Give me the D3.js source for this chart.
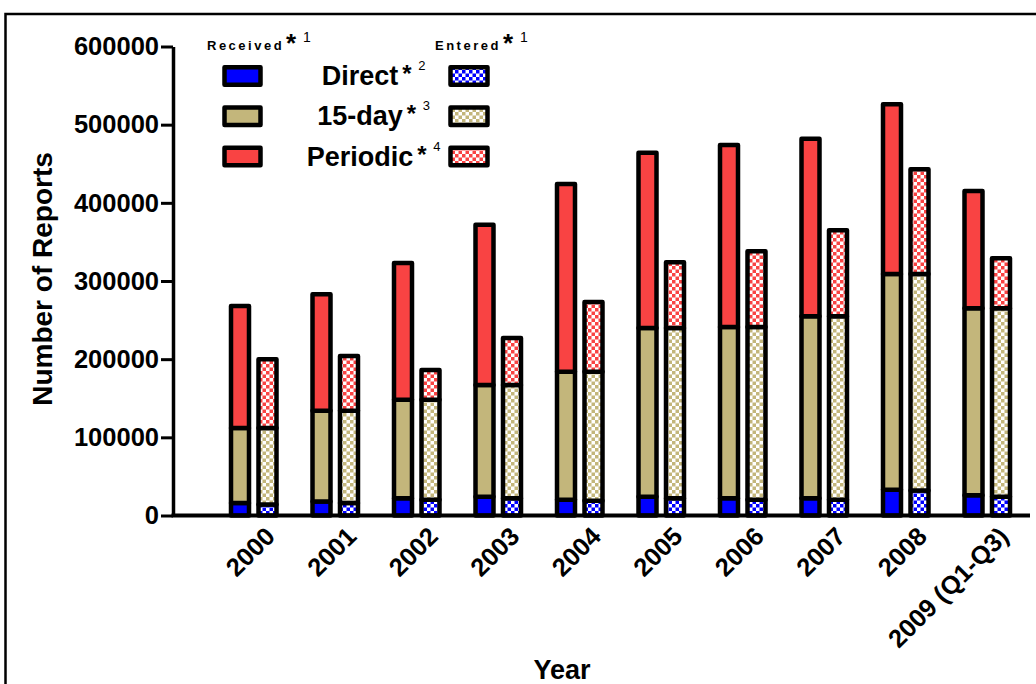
<!DOCTYPE html>
<html>
<head>
<meta charset="utf-8">
<script src="https://cdn.jsdelivr.net/npm/d3@7"></script>
<style>
  html, body { margin: 0; padding: 0; background: #fff; }
  svg { display: block; font-family: "Liberation Sans", Arial, sans-serif; }
</style>
</head>
<body>
<svg id="chart" width="1036" height="684"></svg>
<script>
const years = ["2000", "2001", "2002", "2003", "2004", "2005", "2006", "2007", "2008", "2009 (Q1-Q3)"];
const categories = ["Direct", "15-day", "Periodic"];
const categorySup = ["2", "3", "4"];
const receivedDirect   = [16000, 18000, 22000, 24000, 20000, 24000, 22000, 22000, 33000, 26000];
const received15day    = [96000, 116000, 126000, 143000, 164000, 216000, 219000, 233000, 276000, 239000];
const receivedPeriodic = [156000, 149000, 175000, 205000, 240000, 224000, 233000, 227000, 217000, 150000];
const enteredDirect    = [14000, 16000, 20000, 22000, 19000, 22000, 20000, 20000, 32000, 24000];
const entered15day     = [98000, 118000, 128000, 145000, 165000, 218000, 221000, 235000, 277000, 241000];
const enteredPeriodic  = [88000, 70000, 38000, 60000, 89000, 84000, 97000, 110000, 134000, 64000];
const yTicks = [0, 100000, 200000, 300000, 400000, 500000, 600000];
const colors = ["#0000FF", "#C3B67B", "#F94343"];

const svg = d3.select("#chart");

// patterns
const defs = svg.append("defs");
const cell = 3.5;
colors.forEach((c, i) => {
  const p = defs.append("pattern").attr("id", "chk" + i)
    .attr("patternUnits", "userSpaceOnUse").attr("width", cell * 2).attr("height", cell * 2);
  p.append("rect").attr("width", cell * 2).attr("height", cell * 2).attr("fill", "#fff");
  p.append("rect").attr("width", cell).attr("height", cell).attr("fill", c);
  p.append("rect").attr("x", cell).attr("y", cell).attr("width", cell).attr("height", cell).attr("fill", c);
});

// frame
svg.append("path").attr("d", "M5.5,684 V14 H1036").attr("fill", "none").attr("stroke", "#000").attr("stroke-width", 2.5);

const plotLeft = 173, plotRight = 1030;
const y = d3.scaleLinear().domain([0, 600000]).range([515.5, 46.5]);
const x0 = d3.scaleBand().domain(years).range([212.75, 1027.75]);
const x1 = d3.scaleBand().domain(["received", "entered"]).range([13.5, 68.5]);

const rows = years.map((yr, i) => ({
  year: yr,
  received: [receivedDirect[i], received15day[i], receivedPeriodic[i]],
  entered: [enteredDirect[i], entered15day[i], enteredPeriodic[i]]
}));

const barW = 18, stroke = 4.5;
const bars = svg.append("g");
rows.forEach(r => {
  ["received", "entered"].forEach(t => {
    let acc = 0;
    const cx = x0(r.year) + x1(t) + x1.bandwidth() / 2;
    r[t].forEach((v, k) => {
      const y0 = y(acc), y1 = y(acc + v);
      acc += v;
      bars.append("rect")
        .attr("x", cx - barW / 2).attr("width", barW)
        .attr("y", y1).attr("height", y0 - y1)
        .attr("fill", t === "received" ? colors[k] : "url(#chk" + k + ")")
        .attr("stroke", "#000").attr("stroke-width", stroke)
        .attr("stroke-linejoin", "round");
    });
  });
});

// y axis
const yAxis = svg.append("g").attr("transform", `translate(${plotLeft},0)`)
  .call(d3.axisLeft(y).tickValues(yTicks).tickFormat(d3.format("d")).tickSize(12).tickSizeOuter(0).tickPadding(2));
yAxis.select(".domain").attr("stroke-width", 3.5);
yAxis.selectAll(".tick line").attr("stroke-width", 3);
yAxis.selectAll(".tick text").attr("font-size", 25.5).attr("font-weight", "bold").attr("fill", "#000")
  .attr("font-family", "Liberation Sans, Arial, sans-serif");

// x axis line
svg.append("line").attr("x1", plotLeft - 1.5).attr("x2", plotRight).attr("y1", y(0)).attr("y2", y(0))
  .attr("stroke", "#000").attr("stroke-width", 4);

// x labels
svg.append("g").selectAll("text").data(years).join("text")
  .attr("transform", d => `translate(${x0(d) + x0.bandwidth() / 2 + 23},538) rotate(-45)`)
  .attr("text-anchor", "end")
  .attr("font-size", 25.5).attr("font-weight", "bold").text(d => d);

// axis titles
svg.append("text").attr("transform", "translate(52,279) rotate(-90)")
  .attr("text-anchor", "middle").attr("font-size", 28).attr("font-weight", "bold")
  .text("Number of Reports");
svg.append("text").attr("x", 562).attr("y", 679).attr("text-anchor", "middle")
  .attr("font-size", 27).attr("font-weight", "bold").text("Year");

// legend
const leg = svg.append("g");
const headers = [{ t: "Received", x: 207 }, { t: "Entered", x: 435 }];
headers.forEach(h => {
  const txt = leg.append("text").attr("x", h.x).attr("y", 50).attr("font-size", 13)
    .attr("font-weight", "bold").attr("letter-spacing", 2.5).text(h.t);
  const bb = txt.node().getBBox();
  leg.append("text").attr("x", bb.x + bb.width + 2).attr("y", 52).attr("font-size", 26)
    .attr("font-weight", "bold").text("*");
  leg.append("text").attr("x", bb.x + bb.width + 19).attr("y", 42).attr("font-size", 14).text("1");
});
const legY = d3.scalePoint().domain(categories).range([76, 156.5]);
categories.forEach((c, k) => {
  const cy = legY(c);
  leg.append("rect").attr("x", 224.5).attr("y", cy - 8.75).attr("width", 36).attr("height", 17.5)
    .attr("fill", colors[k]).attr("stroke", "#000").attr("stroke-width", 4.5).attr("stroke-linejoin", "round");
  leg.append("rect").attr("x", 450.5).attr("y", cy - 8.75).attr("width", 37).attr("height", 17.5)
    .attr("fill", "url(#chk" + k + ")").attr("stroke", "#000").attr("stroke-width", 4.5).attr("stroke-linejoin", "round");
  const txt = leg.append("text").attr("x", 360).attr("y", cy + 9).attr("text-anchor", "middle")
    .attr("font-size", 27).attr("font-weight", "bold").text(c);
  const bb = txt.node().getBBox();
  leg.append("text").attr("x", bb.x + bb.width + 4).attr("y", cy + 6).attr("font-size", 24)
    .attr("font-weight", "bold").text("*");
  leg.append("text").attr("x", bb.x + bb.width + 20).attr("y", cy - 6).attr("font-size", 13).text(categorySup[k]);
});
</script>
</body>
</html>
